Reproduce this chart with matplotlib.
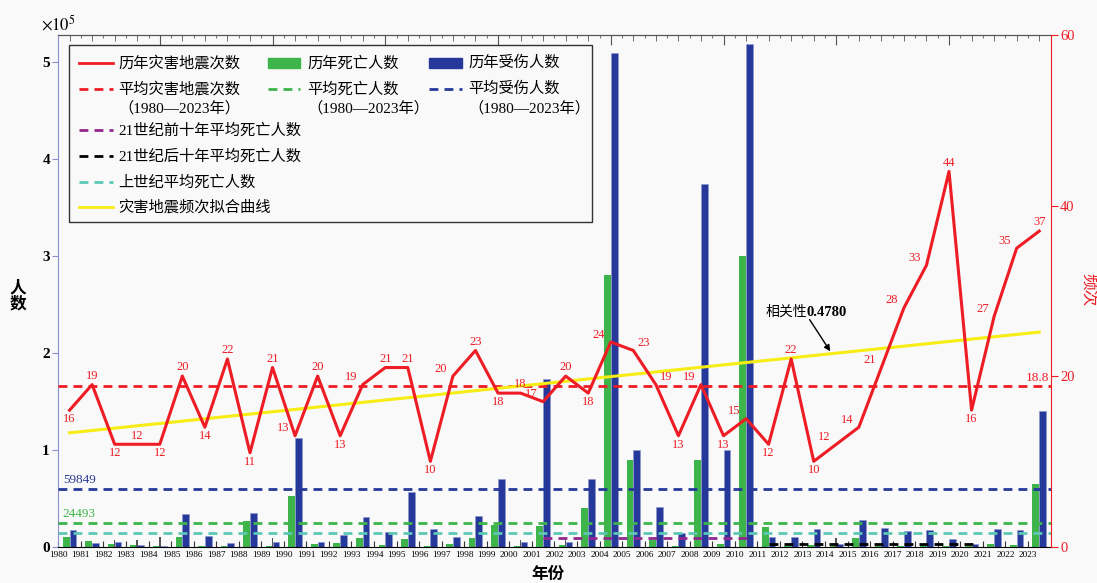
import numpy as np
import matplotlib.pyplot as plt
from matplotlib.patches import Rectangle
from matplotlib.lines import Line2D

plt.rcParams['font.family'] = ['Liberation Serif', 'Noto Sans CJK SC']
plt.rcParams['mathtext.fontset'] = 'stix'
plt.rcParams['axes.unicode_minus'] = False

years = list(range(1980, 2024))

quake_counts = [16, 19, 12, 12, 12, 20, 14, 22, 11, 21,
                13, 20, 13, 19, 21, 21, 10, 20, 23, 18,
                18, 17, 20, 18, 24, 23, 19, 13, 19, 13,
                15, 12, 22, 10, 12, 14, 21, 28, 33, 44,
                16, 27, 35, 37]

deaths = [10000, 6000, 2500, 1500, 300, 10000, 1000, 1000, 26500, 500,
          52000, 2500, 3800, 9300, 1400, 8000, 500, 2500, 9300, 22100,
          300, 21400, 1500, 39700, 280400, 88900, 6600, 700, 88900, 2500,
          300000, 20700, 700, 1400, 700, 9000, 1000, 1000, 2500, 300,
          300, 2200, 1800, 64700]

injuries = [17600, 4200, 4800, 2000, 800, 33500, 11000, 4200, 34500, 4800,
            112000, 4500, 11500, 31000, 15200, 56800, 18000, 10000, 31700, 69700,
            4800, 173000, 4500, 69900, 509500, 99800, 40700, 14500, 374000, 100000,
            518500, 10300, 10300, 18000, 3000, 27600, 19600, 16200, 17000, 8300,
            3000, 18300, 17300, 140000]

# thin dark marks between the bar pairs (no legend entry)
unlabeled_years = [1982, 1983, 1984, 1989, 2000, 2002, 2014]
unlabeled_vals = [7000, 7000, 10000, 9000, 7000, 6500, 9000]

avg_count = 18.8
avg_death = 24493
avg_injury = 59849
early21_death = 9000
late21_death = 3000
last_century_death = 13800
corr_text = '0.4780'

W, H = 1097, 583
RED = '#ee1c24'
GREEN = '#3db54a'
BLUE = '#26399a'
CYAN = '#5cc8b5'
PURPLE = '#92278f'
YELLOW = '#f7ec13'
BG = '#f9f9f9'

fig = plt.figure(figsize=(W / 100, H / 100), dpi=100, facecolor=BG)
ax = fig.add_axes([58.3 / W, 1 - 546.6 / H, (1050.5 - 58.3) / W, (546.6 - 35) / H])
ax.set_facecolor(BG)
ax2 = ax.twinx()

x = np.arange(len(years))
bw = 0.3
ax.bar(x - bw / 2, deaths, bw, color=GREEN, zorder=2)
ax.bar(x + bw / 2, injuries, bw, color=BLUE, edgecolor='#8d97cc', linewidth=0.4, zorder=2)
ux = [years.index(y) for y in unlabeled_years]
ax.bar(ux, unlabeled_vals, 0.07, color='#555555', zorder=2)

dash = (3.2, 2.2)
ax.axhline(avg_injury, color=BLUE, lw=2, dashes=dash, zorder=3)
ax.axhline(avg_death, color=GREEN, lw=2, dashes=dash, zorder=3)
ax.axhline(last_century_death, color=CYAN, lw=2, dashes=dash, zorder=3)
e0, e1 = years.index(2001), years.index(2010)
ax.plot([e0, e1 + 0.1], [early21_death] * 2, color=PURPLE, lw=2, dashes=dash, zorder=3)
l0, l1 = years.index(2011), years.index(2020)
ax.plot([l0, l1 + 0.2], [late21_death] * 2, color='black', lw=2, dashes=dash, zorder=3)

ax.annotate(f'{avg_injury}', (-0.3, avg_injury), xytext=(0, 2), textcoords='offset points',
            color='#2e3a94', fontsize=9.5, ha='left', va='bottom')
ax.annotate(f'{avg_death}', (-0.3, avg_death), xytext=(0, 2), textcoords='offset points',
            color=GREEN, fontsize=9.5, ha='left', va='bottom')

ax.set_xlim(-0.5, len(years) - 0.5)
ax.set_ylim(0, 528000)
ax.set_yticks([0, 100000, 200000, 300000, 400000, 500000])
ax.set_yticklabels(['0', '1', '2', '3', '4', '5'], fontsize=11, fontweight='bold')
ax.tick_params(axis='y', direction='out', length=4, color='#8b8fcf', pad=2)
ax.set_xticks(x - 0.5)
ax.set_xticklabels([str(y) for y in years], fontsize=6.7)
ax.tick_params(axis='x', direction='in', length=4, color='#333333', pad=3)

ax.spines['left'].set_color('#8b8fcf')
ax.spines['top'].set_color('#555555')
ax.spines['bottom'].set_color('black')
ax.spines['right'].set_visible(False)

# top ticks
top1 = ax.secondary_xaxis('top')
top1.set_xticks(np.arange(4, len(years), 5))
top1.set_xticks(np.arange(0, len(years)), minor=True)
top1.tick_params(which='major', direction='in', length=7, color='#555555', labeltop=False)
top1.tick_params(which='minor', direction='in', length=4.5, color='#555555')
top1.spines['top'].set_color('#555555')
top2 = ax.secondary_xaxis('top')
top2.set_xticks(np.arange(0.5, len(years) - 0.5, 1))
top2.tick_params(direction='in', length=2.5, color='#777777', labeltop=False)
top2.spines['top'].set_visible(False)

# frequency axis
ax2.set_ylim(0, 60)
ax2.plot(x, quake_counts, color=RED, lw=2.2, zorder=5)
coef = np.polyfit(x, quake_counts, 1)
ax2.plot(x, np.polyval(coef, x), color=YELLOW, lw=2.2, zorder=4)
ax2.axhline(avg_count, color=RED, lw=2, dashes=dash, zorder=3)
ax2.text(len(years) - 0.55, avg_count + 0.3, f'{avg_count}', color=RED, fontsize=9.5,
         ha='right', va='bottom')

# scale factor between the two y axes, used to keep labels off tall bars
k = ax.get_ylim()[1] / ax2.get_ylim()[1]
n = len(quake_counts)
for i, v in enumerate(quake_counts):
    prev = quake_counts[i - 1] if i > 0 else None
    nxt = quake_counts[i + 1] if i < n - 1 else None
    if prev is None:
        pos = 'below' if nxt > v else 'above'
    elif nxt is None:
        pos = 'above'
    elif v >= prev and v >= nxt:
        pos = 'above'
    elif v <= prev and v <= nxt:
        pos = 'below'
    elif prev < v < nxt:
        pos = 'left'
    else:
        pos = 'right'
    if max(deaths[i], injuries[i]) > 0.9 * v * k:
        pos = 'left'
    off, ha, va = {'above': ((0, 2), 'center', 'bottom'),
                   'below': ((0, -2), 'center', 'top'),
                   'left': ((-4, 1), 'right', 'bottom'),
                   'right': ((3, 1), 'left', 'bottom')}[pos]
    ax2.annotate(str(v), (x[i], v), xytext=off, textcoords='offset points',
                 color=RED, fontsize=9, ha=ha, va=va, zorder=6)

xa = 33.8
ax2.annotate('', xy=(xa, np.polyval(coef, xa)), xytext=(32.75, 26.9),
             arrowprops=dict(arrowstyle='-|>', color='black', lw=1, mutation_scale=9))
t1 = ax2.text(30.85, 27.5, '相关性', fontsize=10, va='center', ha='left', color='black')
ax2.annotate(corr_text, xy=(1, 0.5), xycoords=t1, va='center', ha='left',
             fontsize=10.5, fontweight='bold', color='black')

ax2.set_yticks([0, 20, 40, 60])
ax2.tick_params(axis='y', colors=RED, direction='out', length=5, labelsize=10.5, pad=2)
ax2.spines['right'].set_color(RED)
for s in ['left', 'top', 'bottom']:
    ax2.spines[s].set_visible(False)

# axis titles
fig.text(41 / W, 1 - 24 / H, r'$\times10^5$', fontsize=12, ha='left', va='center')
fig.text(18 / W, 1 - 296 / H, '人\n数', fontsize=12, fontweight='bold', ha='center',
         va='center', linespacing=1.0)
fig.text(548 / W, 1 - 575 / H, '年份', fontsize=12, fontweight='bold', ha='center', va='center')
fig.text(1088 / W, 1 - 290 / H, '频次', fontsize=12, color=RED, rotation=270,
         ha='center', va='center')


# legend box drawn by hand
def fx(px):
    return px / W


def fy(py):
    return 1 - py / H


fig.add_artist(Rectangle((fx(69), fy(222)), fx(592) - fx(69), fy(45) - fy(222),
                         transform=fig.transFigure, facecolor=BG, edgecolor='#333333',
                         lw=1, zorder=10))


def leg_line(x0, x1, y, color, dashed):
    kw = dict(dashes=(3.2, 2.2)) if dashed else {}
    fig.add_artist(Line2D([fx(x0), fx(x1)], [fy(y), fy(y)], transform=fig.transFigure,
                          color=color, lw=2, zorder=11, **kw))


def leg_box(x0, x1, y, color):
    fig.add_artist(Rectangle((fx(x0), fy(y + 5)), fx(x1) - fx(x0), fy(y - 5) - fy(y + 5),
                             transform=fig.transFigure, color=color, zorder=11))


def leg_text(x0, y, s):
    fig.text(fx(x0), fy(y), s, fontsize=11, ha='left', va='center', zorder=12)


cols = [(79, 113, 118.5), (268, 300, 307.5), (429, 462, 468.5)]
span = '（1980—2023年）'
leg_line(cols[0][0], cols[0][1], 63, RED, False)
leg_text(cols[0][2], 63, '历年灾害地震次数')
leg_box(cols[1][0], cols[1][1], 63, GREEN)
leg_text(cols[1][2], 63, '历年死亡人数')
leg_box(cols[2][0], cols[2][1], 63, BLUE)
leg_text(cols[2][2], 63, '历年受伤人数')
leg_line(cols[0][0], cols[0][1], 89, RED, True)
leg_text(cols[0][2], 89, '平均灾害地震次数')
leg_text(cols[0][2], 108, span)
leg_line(cols[1][0], cols[1][1], 89, GREEN, True)
leg_text(cols[1][2], 89, '平均死亡人数')
leg_text(cols[1][2], 108, span)
leg_line(cols[2][0], cols[2][1], 89, BLUE, True)
leg_text(cols[2][2], 89, '平均受伤人数')
leg_text(cols[2][2], 108, span)
leg_line(cols[0][0], cols[0][1], 130, PURPLE, True)
leg_text(cols[0][2], 130, '21世纪前十年平均死亡人数')
leg_line(cols[0][0], cols[0][1], 156, 'black', True)
leg_text(cols[0][2], 156, '21世纪后十年平均死亡人数')
leg_line(cols[0][0], cols[0][1], 182, CYAN, True)
leg_text(cols[0][2], 182, '上世纪平均死亡人数')
leg_line(cols[0][0], cols[0][1], 207, YELLOW, False)
leg_text(cols[0][2], 207, '灾害地震频次拟合曲线')

fig.savefig('out.png', dpi=100, facecolor=BG)
